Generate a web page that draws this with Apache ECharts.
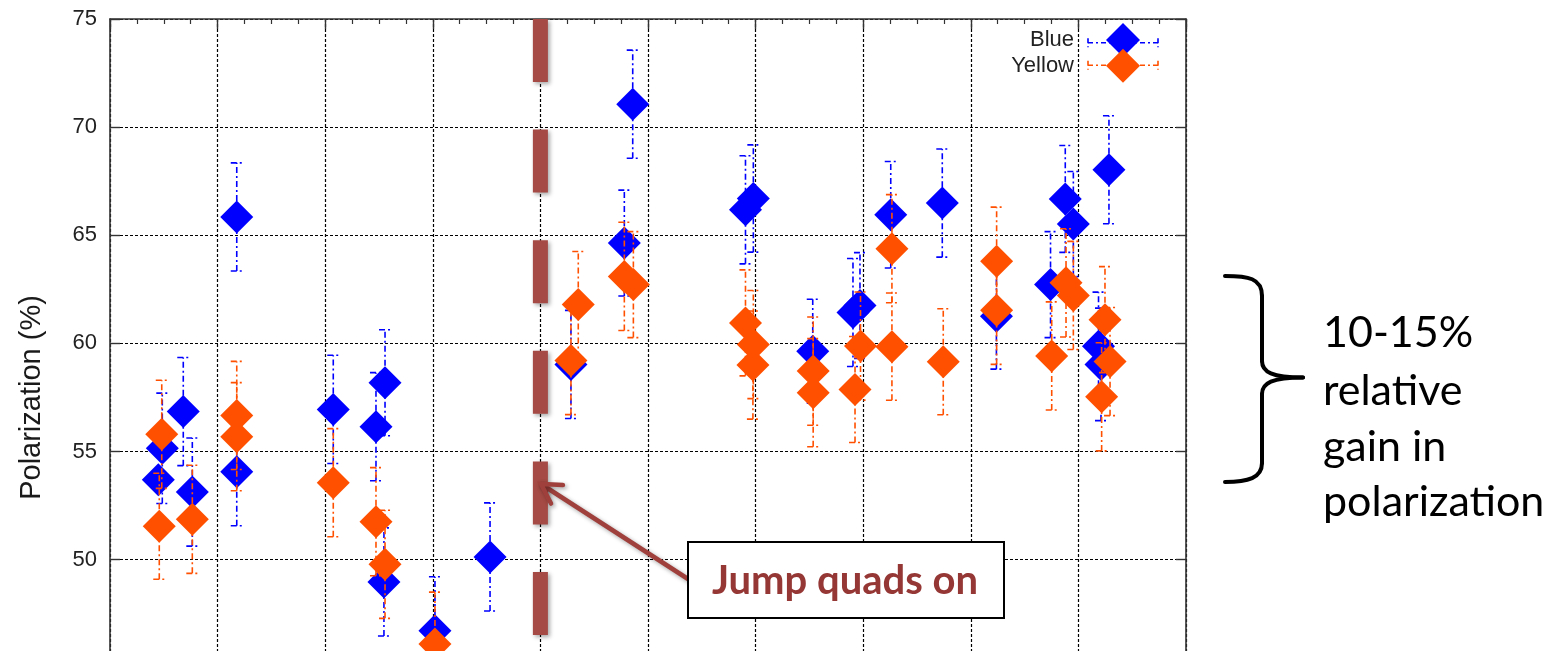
<!DOCTYPE html>
<html>
<head>
<meta charset="utf-8">
<title>Polarization</title>
<script src="https://cdn.jsdelivr.net/npm/echarts@6/dist/echarts.min.js"></script>
<style>
  html, body { margin: 0; padding: 0; background: #ffffff; }
  #chart { width: 1566px; height: 651px; }
</style>
</head>
<body>
<div id="chart"></div>
<script>
// Measurement positions along the run axis, polarization values (%) and their errors.
const blueX = [0.449, 0.486, 0.681, 0.765, 1.178, 1.178, 2.075, 2.472, 2.556, 2.546, 3.020, 3.532, 4.284, 4.780, 4.858,
               5.906, 5.979, 6.531, 6.905, 6.970, 7.256, 7.735, 8.238, 8.741, 8.878, 8.953, 9.187, 9.210, 9.284];
const blueY = [53.70, 55.15, 56.85, 53.13, 65.85, 54.07, 56.95, 56.15, 58.18, 48.97, 46.71, 50.13, 59.03, 64.64, 71.06,
               66.18, 66.70, 59.64, 61.43, 61.75, 65.95, 66.49, 61.26, 62.72, 66.68, 65.52, 59.87, 59.03, 68.03];
const blueErr = [0.4, 2.55, 2.5, 2.5, 2.5, 2.5, 2.5, 2.5, 2.45, 2.5, 2.5, 2.5, 2.5, 2.45, 2.5,
                 2.5, 2.48, 2.4, 2.5, 2.45, 2.46, 2.5, 2.45, 2.45, 2.47, 2.43, 2.5, 2.6, 2.5];

const yellowX = [0.458, 0.481, 0.765, 1.178, 1.178, 2.075, 2.472, 2.556, 3.020, 4.284, 4.352, 4.780, 4.864, 5.906, 5.979, 5.975,
                 6.535, 6.535, 6.975, 6.924, 7.267, 7.267, 7.744, 8.240, 8.240, 8.752, 8.885, 8.953, 9.247, 9.294, 9.216];
const yellowY = [51.55, 55.80, 51.87, 56.67, 55.69, 53.56, 51.76, 49.79, 46.10, 59.21, 61.80, 63.10, 62.72, 60.95, 59.95, 59.00,
                 58.72, 57.72, 59.88, 57.87, 64.38, 59.85, 59.15, 63.80, 61.53, 59.42, 62.80, 62.22, 61.10, 59.16, 57.53];
const yellowErr = [2.45, 2.5, 2.5, 2.5, 2.5, 2.5, 2.5, 2.5, 2.4, 2.5, 2.45, 2.5, 2.45, 2.45, 2.5, 2.5,
                   2.5, 2.5, 2.5, 2.45, 2.5, 2.48, 2.45, 2.5, 2.5, 2.5, 2.5, 2.5, 2.45, 2.5, 2.5];

const seriesNames = ['Blue', 'Yellow'];
const yAxisTitle = 'Polarization (%)';
const jumpQuadsX = 4;          // run position where the jump quads were switched on
const jumpQuadsText = 'Jump quads on';
const gainText = ['10-15%', 'relative', 'gain in', 'polarization'];

const BLUE = '#0000ff';
const ORANGE = '#ff5000';
const AXIS_FONT = 'Liberation Sans';

function points(xs, ys) { return xs.map((x, i) => [x, ys[i]]); }
function bars(xs, ys, es) { return xs.map((x, i) => [x, ys[i] - es[i], ys[i] + es[i]]); }

function errorBars(color) {
  return function (params, api) {
    const x = api.value(0);
    const lo = api.coord([x, api.value(1)]);
    const hi = api.coord([x, api.value(2)]);
    const half = 6;
    const style = { stroke: color, lineWidth: 1.6, lineDash: [6, 3, 2, 3], fill: null };
    return {
      type: 'group',
      children: [
        { type: 'line', shape: { x1: lo[0], y1: lo[1], x2: hi[0], y2: hi[1] }, style: style },
        { type: 'line', shape: { x1: hi[0] - half, y1: hi[1], x2: hi[0] + half, y2: hi[1] }, style: style },
        { type: 'line', shape: { x1: lo[0] - half, y1: lo[1], x2: lo[0] + half, y2: lo[1] }, style: style }
      ]
    };
  };
}

const gridLine = { show: true, lineStyle: { color: '#000', width: 1.2, type: [3, 2] } };
const frameLine = { show: true, onZero: false, lineStyle: { color: '#333', width: 1.6 } };
const tickIn = { show: true, inside: true, length: 10, lineStyle: { color: '#333', width: 1.4 } };
const minorIn = { show: true, splitNumber: 4, length: 5, lineStyle: { color: '#333', width: 1.2 } };

const chart = echarts.init(document.getElementById('chart'), null, { renderer: 'canvas' });

const option = {
  animation: false,
  backgroundColor: '#ffffff',
  grid: { left: 110, top: 19, width: 1076, height: 757, containLabel: false, outerBoundsMode: 'none' },
  xAxis: [
    {
      type: 'value', min: 0, max: 10, interval: 1, position: 'bottom',
      axisLine: frameLine, axisTick: tickIn, minorTick: minorIn,
      axisLabel: { show: false }, splitLine: gridLine
    },
    {
      type: 'value', min: 0, max: 10, interval: 1, position: 'top',
      axisLine: frameLine, axisTick: tickIn, minorTick: minorIn,
      axisLabel: { show: false }, splitLine: { show: false }
    }
  ],
  yAxis: [
    {
      type: 'value', min: 40, max: 75, interval: 5, position: 'left',
      axisLine: frameLine, axisTick: tickIn,
      axisLabel: { fontFamily: AXIS_FONT, fontSize: 22, color: '#222', margin: 13 },
      splitLine: gridLine,
      name: yAxisTitle, nameLocation: 'middle', nameRotate: 90, nameGap: 64,
      nameTextStyle: { fontFamily: AXIS_FONT, fontSize: 29, color: '#1a1a1a' }
    },
    {
      type: 'value', min: 40, max: 75, interval: 5, position: 'right',
      axisLine: frameLine, axisTick: tickIn,
      axisLabel: { show: false }, splitLine: { show: false }
    }
  ],
  legend: [
    {
      data: [{ name: seriesNames[0], icon: 'diamond', itemStyle: { color: BLUE } }],
      orient: 'vertical', align: 'right', right: 426, top: 23, padding: 0,
      itemWidth: 34, itemHeight: 34,
      textStyle: { fontFamily: AXIS_FONT, fontSize: 22, color: '#222', padding: [6, 27, 0, 0] }
    },
    {
      data: [{ name: seriesNames[1], icon: 'diamond', itemStyle: { color: ORANGE } }],
      orient: 'vertical', align: 'right', right: 426, top: 48.7, padding: 0,
      itemWidth: 34, itemHeight: 34,
      textStyle: { fontFamily: AXIS_FONT, fontSize: 22, color: '#222', padding: [0, 27, 0, 0] }
    }
  ],
  series: [
    {
      name: seriesNames[0], type: 'scatter', z: 3,
      symbol: 'diamond', symbolSize: 33, itemStyle: { color: BLUE, opacity: 1 },
      data: points(blueX, blueY)
    },
    {
      name: seriesNames[0], type: 'custom', z: 2, clip: true,
      renderItem: errorBars(BLUE), encode: { x: 0, y: [1, 2] },
      itemStyle: { color: BLUE },
      data: bars(blueX, blueY, blueErr), silent: true
    },
    {
      name: seriesNames[1], type: 'scatter', z: 5,
      symbol: 'diamond', symbolSize: 33, itemStyle: { color: ORANGE, opacity: 1 },
      data: points(yellowX, yellowY)
    },
    {
      name: seriesNames[1], type: 'custom', z: 4, clip: true,
      renderItem: errorBars(ORANGE), encode: { x: 0, y: [1, 2] },
      itemStyle: { color: ORANGE },
      data: bars(yellowX, yellowY, yellowErr), silent: true
    }
  ]
};

chart.setOption(option);

// Annotation layer: jump-quad marker, call-out box, brace and note.
const jx = chart.convertToPixel({ xAxisIndex: 0 }, jumpQuadsX);
const jTop = chart.convertToPixel({ yAxisIndex: 0 }, 75);
const jBottom = chart.convertToPixel({ yAxisIndex: 0 }, 40);

const shadow = { shadowBlur: 4, shadowOffsetX: 2, shadowOffsetY: 2, shadowColor: 'rgba(0,0,0,0.35)' };
const markerColor = '#a54a44';
const arrowColor = '#a0403c';

function legendSample(y, color) {
  const s = { stroke: color, lineWidth: 1.6, lineDash: [5, 3, 2, 3] };
  return [
    { type: 'line', z: 1, shape: { x1: 1088, y1: y, x2: 1158, y2: y }, style: s },
    { type: 'line', z: 1, shape: { x1: 1088, y1: y - 4.5, x2: 1088, y2: y + 4.5 }, style: s },
    { type: 'line', z: 1, shape: { x1: 1158, y1: y - 4.5, x2: 1158, y2: y + 4.5 }, style: s }
  ];
}

const tip = [541, 484];
const tail = [688, 579];
const ang = Math.atan2(tail[1] - tip[1], tail[0] - tip[0]);
const barb = 22, spread = Math.PI / 6;
const barb1 = [tip[0] + barb * Math.cos(ang - spread), tip[1] + barb * Math.sin(ang - spread)];
const barb2 = [tip[0] + barb * Math.cos(ang + spread), tip[1] + barb * Math.sin(ang + spread)];

// Right-hand brace built from straight runs and cubic curves.
const braceStyle = { stroke: '#000000', lineWidth: 4, fill: null, lineCap: 'round' };
const bracePieces = [
  { type: 'bezierCurve', shape: { x1: 1225, y1: 276, cpx1: 1248, cpy1: 276, cpx2: 1262, cpy2: 278, x2: 1262, y2: 296 } },
  { type: 'line', shape: { x1: 1262, y1: 296, x2: 1262, y2: 361 } },
  { type: 'bezierCurve', shape: { x1: 1262, y1: 361, cpx1: 1262, cpy1: 372, cpx2: 1272, cpy2: 377.5, x2: 1303, y2: 377.5 } },
  { type: 'bezierCurve', shape: { x1: 1303, y1: 377.5, cpx1: 1272, cpy1: 377.5, cpx2: 1262, cpy2: 383, x2: 1262, y2: 394 } },
  { type: 'line', shape: { x1: 1262, y1: 394, x2: 1262, y2: 463 } },
  { type: 'bezierCurve', shape: { x1: 1262, y1: 463, cpx1: 1262, cpy1: 478, cpx2: 1248, cpy2: 482, x2: 1225, y2: 482 } }
].map(p => Object.assign(p, { z: 20, style: braceStyle }));

const graphics = [].concat(
  legendSample(42.7, BLUE),
  legendSample(65.3, ORANGE),
  [
    {
      type: 'line', z: 20,
      shape: { x1: jx, y1: jTop, x2: jx, y2: jBottom },
      style: Object.assign({ stroke: markerColor, lineWidth: 15, lineDash: [63, 47.6], lineCap: 'butt' }, shadow)
    },
    {
      type: 'line', z: 21,
      shape: { x1: tail[0], y1: tail[1], x2: tip[0], y2: tip[1] },
      style: Object.assign({ stroke: arrowColor, lineWidth: 4.5, lineCap: 'round' }, shadow)
    },
    {
      type: 'polyline', z: 21,
      shape: { points: [barb1, tip, barb2] },
      style: Object.assign({ stroke: arrowColor, lineWidth: 4.5, lineCap: 'round', lineJoin: 'miter', fill: null }, shadow)
    },
    {
      type: 'rect', z: 22,
      shape: { x: 688, y: 542, width: 316, height: 76 },
      style: { fill: '#ffffff', stroke: '#000000', lineWidth: 2 }
    },
    {
      type: 'text', z: 23, x: 845, y: 581.5,
      style: { text: jumpQuadsText, font: 'bold 40px Lato', fill: '#953735', align: 'center', verticalAlign: 'middle' }
    }
  ],
  bracePieces,
  gainText.map((t, i) => ({
    type: 'text', z: 20, x: 1323, y: [333.5, 391, 447.5, 502.5][i],
    style: { text: t, font: '43px Lato', fill: '#000000', align: 'left', verticalAlign: 'middle' }
  }))
);

chart.setOption({ graphic: graphics });
</script>
</body>
</html>
